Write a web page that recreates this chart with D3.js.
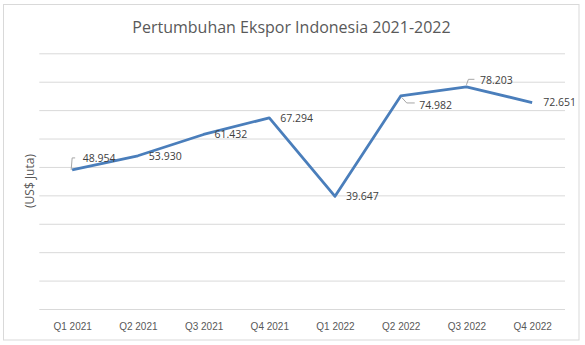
<!DOCTYPE html>
<html lang="id">
<head>
<meta charset="utf-8">
<title>Pertumbuhan Ekspor Indonesia 2021-2022</title>
<script src="https://cdnjs.cloudflare.com/ajax/libs/d3/7.8.5/d3.min.js"></script>
<style>
  body { margin: 0; background: #fff; }
  svg { display: block; font-family: "Open Sans", sans-serif; }
  .grid line { stroke: #d9d9d9; stroke-width: 1; }
  .grid .domain { display: none; }
  .xaxis text { fill: #595959; font-size: 10px; }
  .xaxis line, .xaxis .domain { display: none; }
  .lbl { fill: #404040; font-size: 10.5px; }
  .leader { fill: none; stroke: #a6a6a6; stroke-width: 1; }
</style>
</head>
<body>
<svg id="chart" width="585" height="345"></svg>
<script>
// data
var quarters = ["Q1 2021", "Q2 2021", "Q3 2021", "Q4 2021", "Q1 2022", "Q2 2022", "Q3 2022", "Q4 2022"];
var ekspor = [48.954, 53.930, 61.432, 67.294, 39.647, 74.982, 78.203, 72.651];
var yTicks = [0, 10, 20, 30, 40, 50, 60, 70, 80, 90];

// label placement (dx, dy from the point) and optional leader line
var labelPos = {
  0: { dx: 10.5, dy: -12, leader: "M-1,0L0,-12L3,-12" },
  5: { dx: 18.5, dy: 9.5, leader: "M1,1.5L6,7L14,7" },
  6: { dx: 13.5, dy: -7, leader: "M0,-2L2,-7.5L8,-7.5" }
};

var svg = d3.select("#chart");

// outer frame
svg.append("rect")
  .attr("x", 3.5).attr("y", 4.5)
  .attr("width", 575.5).attr("height", 335.5)
  .attr("fill", "#fff")
  .attr("stroke", "#d9d9d9");

var plotL = 39.3, plotR = 565, plotT = 53.3, plotB = 309;

var x = d3.scalePoint().domain(quarters).range([plotL, plotR]).padding(0.5);
var y = d3.scaleLinear().domain([0, 90]).range([plotB, plotT]);

// gridlines
svg.append("g")
  .attr("class", "grid")
  .attr("transform", "translate(" + plotL + ",0)")
  .call(d3.axisLeft(y).tickValues(yTicks).tickSize(-(plotR - plotL)).tickFormat(""));

// x axis labels
svg.append("g")
  .attr("class", "xaxis")
  .attr("transform", "translate(0," + plotB + ")")
  .call(d3.axisBottom(x).tickSize(0).tickPadding(14));

// title
svg.append("text")
  .attr("x", 291.5).attr("y", 32.5)
  .attr("text-anchor", "middle")
  .attr("fill", "#595959")
  .attr("font-size", "16px")
  .text("Pertumbuhan Ekspor Indonesia 2021-2022");

// y axis title
svg.append("text")
  .attr("transform", "translate(33.5,181) rotate(-90)")
  .attr("text-anchor", "middle")
  .attr("fill", "#595959")
  .attr("font-size", "12px")
  .text("(US$ Juta)");

// line
var line = d3.line()
  .x(function(d, i) { return x(quarters[i]); })
  .y(function(d) { return y(d); });

svg.append("path")
  .datum(ekspor)
  .attr("d", line)
  .attr("fill", "none")
  .attr("stroke", "#4a7ebb")
  .attr("stroke-width", 2.8)
  .attr("stroke-linejoin", "round");

// data labels
var points = ekspor.map(function(v, i) { return { q: quarters[i], v: v, pos: labelPos[i] }; });

var labels = svg.append("g").selectAll("g")
  .data(points)
  .join("g")
  .attr("transform", function(d) { return "translate(" + x(d.q) + "," + y(d.v) + ")"; });

labels.filter(function(d) { return d.pos; })
  .append("path")
  .attr("class", "leader")
  .attr("d", function(d) { return d.pos.leader; });

labels.append("text")
  .attr("class", "lbl")
  .attr("x", function(d) { return d.pos ? d.pos.dx : 11; })
  .attr("y", function(d) { return d.pos ? d.pos.dy : 0; })
  .attr("dy", "0.36em")
  .text(function(d) { return d3.format(".3f")(d.v); });
</script>
</body>
</html>
